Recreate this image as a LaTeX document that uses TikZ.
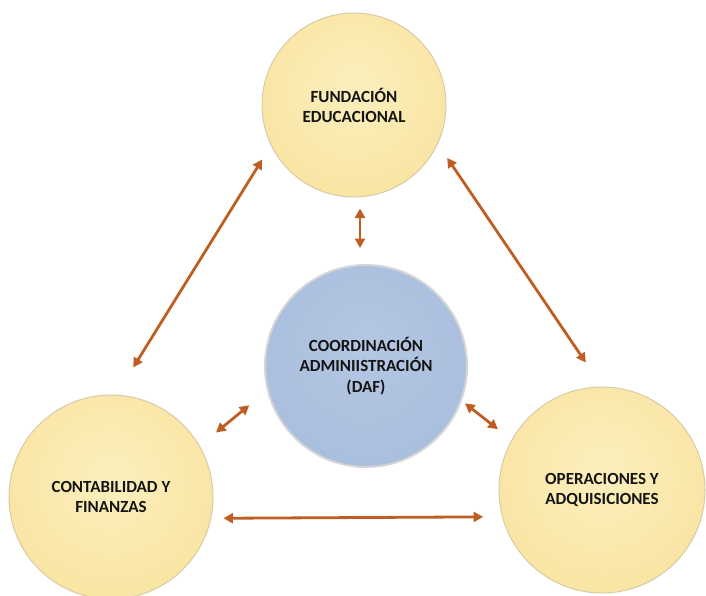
\documentclass[tikz,border=0pt]{standalone}
\usepackage{fontspec}
\setmainfont{Carlito}
\usetikzlibrary{arrows.meta}
\definecolor{arrc}{HTML}{BF5E22}
\definecolor{yelIn}{HTML}{FCEFBE}
\definecolor{yelMid}{HTML}{F9E5A3}
\definecolor{yelOut}{HTML}{F2D994}
\definecolor{yelEdge}{HTML}{D8CBA6}
\definecolor{bluIn}{HTML}{B4C7E3}
\definecolor{bluMid}{HTML}{A9BEDD}
\definecolor{bluOut}{HTML}{94ABD0}
\definecolor{txt}{HTML}{141414}
\pgfdeclareradialshading{yshade}{\pgfpoint{0bp}{6bp}}{color(0bp)=(yelIn); color(28bp)=(yelMid); color(45bp)=(yelMid); color(50bp)=(yelOut)}
\pgfdeclareradialshading{bshade}{\pgfpoint{0bp}{6bp}}{color(0bp)=(bluIn); color(30bp)=(bluMid); color(45bp)=(bluMid); color(50bp)=(bluOut)}
\tikzset{
  yball/.style={circle, inner sep=0pt, minimum size=#1, shading=yshade, draw=yelEdge, line width=1pt,
    font=\bfseries\fontsize{17}{20}\selectfont, text=txt, align=center},
  bball/.style={circle, inner sep=0pt, minimum size=#1, shading=bshade, draw=black!16, line width=2pt,
    font=\bfseries\fontsize{17}{20.5}\selectfont, text=txt, align=center},
  conn/.style={draw=arrc, line width=2.8pt, {Triangle[length=9.5pt,width=10pt]}-{Triangle[length=9.5pt,width=10pt]}}
}
\begin{document}
\begin{tikzpicture}[x=1pt,y=-1pt]
\useasboundingbox (0,0) rectangle (706,595);
\begin{scope}
\clip (0,0) rectangle (706,595);
\node[yball=184pt] (top) at (354,105) {FUNDACIÓN\\EDUCACIONAL};
\node[bball=202pt] (mid) at (366,366) {COORDINACIÓN\\ADMINIISTRACIÓN\\(DAF)};
\node[yball=204pt] (left) at (111,497) {CONTABILIDAD Y\\FINANZAS};
\node[yball=206pt] (right) at (602,490) {OPERACIONES Y\\ADQUISICIONES};
\end{scope}
\draw[conn, shorten <=16.4pt, shorten >=32pt] (top.206.5) -- (left.87.2);
\draw[conn, shorten <=16.7pt, shorten >=28.9pt] (top.335.5) -- (right.90.5);
\draw[conn, shorten <=11pt, shorten >=16pt] ([xshift=6pt]top.south) -- ([xshift=-6pt]mid.north);
\draw[conn, shorten <=23pt, shorten >=21pt] (mid.194.3) -- (left.30.9);
\draw[conn, shorten <=4pt, shorten >=17.3pt] (mid.340) -- (right.151.5);
\draw[conn, shorten <=12.2pt, shorten >=18.9pt] (left.348.1) -- (right.195.8);
\end{tikzpicture}
\end{document}
